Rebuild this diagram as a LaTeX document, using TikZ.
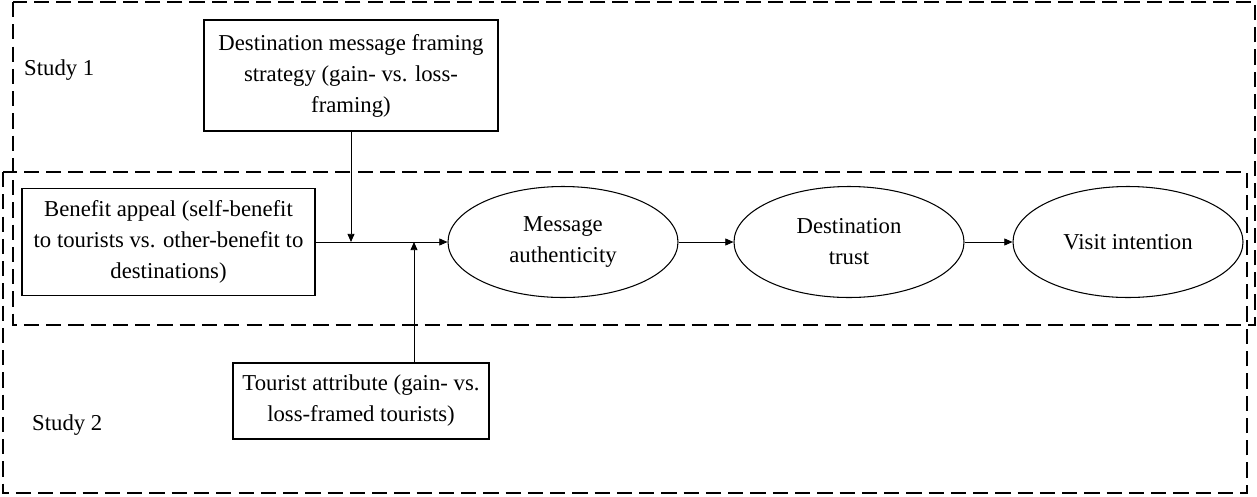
\documentclass[tikz,border=0pt]{standalone}
\usepackage{fontspec}
\setmainfont{Liberation Serif}
\usetikzlibrary{arrows.meta,shapes.geometric}
\begin{document}
\begin{tikzpicture}[x=0.03cm, y=-0.03cm,
	font=\fontsize{19.4}{26.5}\selectfont,
	studybox/.style={line width=2.4pt, dash pattern=on 13pt off 6pt},
	varbox/.style={draw, line width=0.9pt, align=center, inner sep=0pt},
	varoval/.style={draw, ellipse, line width=0.9pt, align=center, inner sep=0pt,
		minimum width=6.9cm, minimum height=3.33cm},
	>={Triangle[length=7pt,width=6pt]}]
			\useasboundingbox (0,0) rectangle (1257,496);
			%\draw[help lines, color=gray!30, dashed] (0,0) grid[step=50] (1257,496);
			\draw[studybox] (13,2) rectangle (1255,325);
			\draw[studybox] (3,172) rectangle (1247,493);
			\node[anchor=west, inner sep=0pt] (study1) at (24,70) {Study 1};
			\node[anchor=west, inner sep=0pt] (study2) at (32,425) {Study 2};
			\node[varbox, minimum width=8.82cm, minimum height=3.33cm] (framing) at (351,75.5)
				{Destination message framing\\strategy (gain- vs. loss-\\framing)};
			\node[varbox, minimum width=8.79cm, minimum height=3.21cm] (benefit) at (168.5,242)
				{Benefit appeal (self-benefit\\to tourists vs. other-benefit to\\destinations)};
			\node[varbox, minimum width=7.68cm, minimum height=2.28cm] (tourist) at (361,401)
				{Tourist attribute (gain- vs.\\loss-framed tourists)};
			\node[varoval] (authenticity) at (563,242) {Message\\authenticity};
			\node[varoval] (trust) at (849,242) {Destination\\trust};
			\node[varoval] (intention) at (1128,242) {Visit intention};
			\coordinate (tjoin) at (414,242);
			\draw[->, line width=0.8pt] (benefit.east) -- (authenticity.west);
			\draw[->, line width=0.8pt] (framing.south) -- (framing.south |- benefit.east);
			\draw[->, line width=0.8pt] (tourist.north -| tjoin) -- (tjoin);
			\draw[->, line width=0.8pt] (authenticity.east) -- (trust.west);
			\draw[->, line width=0.8pt] (trust.east) -- (intention.west);
\end{tikzpicture}
\end{document}
